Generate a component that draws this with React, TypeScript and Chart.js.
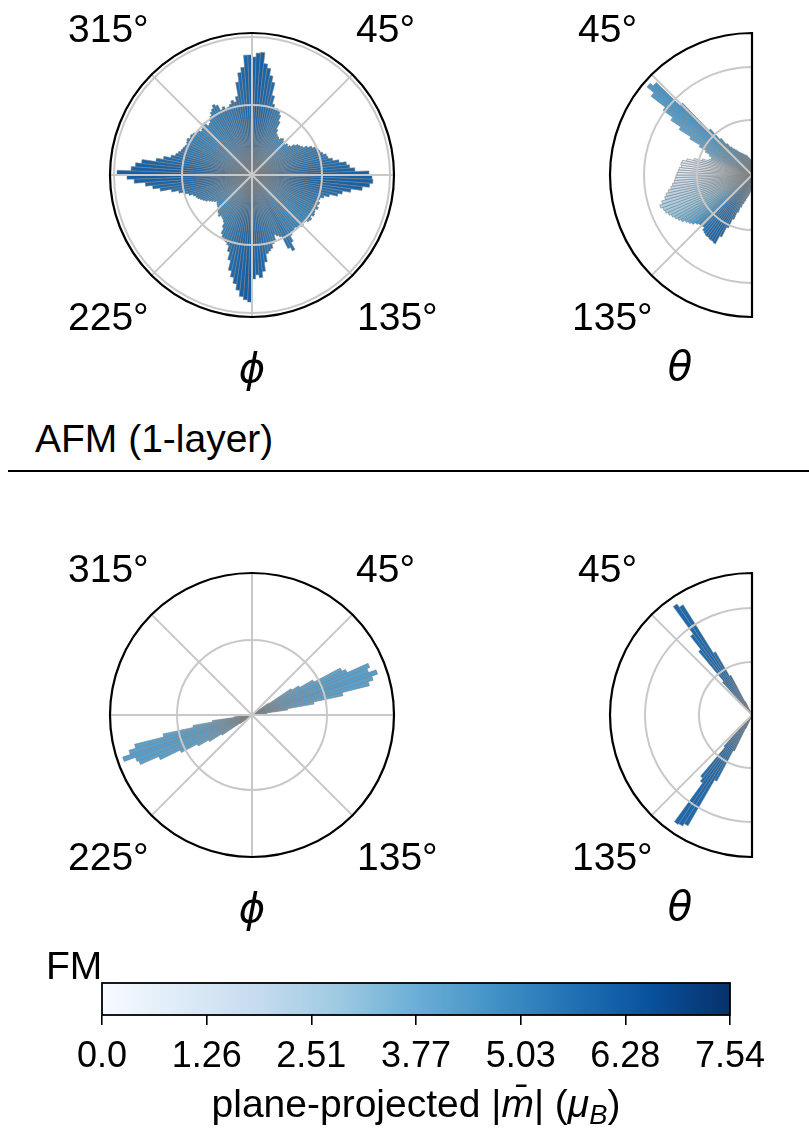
import React, { useEffect, useRef } from 'react';
import { Chart, registerables } from 'chart.js';
Chart.register(...registerables);

// ---------------- DATA ----------------
// Histogram bins are 2 degrees wide. phi bins start at phi = 0 (top), clockwise.
// theta bins start at theta = 0 (top) and run to 180 (bottom) through the left side.
const R_MAX = 142;

// AFM (1-layer) – phi histogram counts (180 bins)
const afmPhiCounts = [
  118, 122, 123, 112, 108, 101, 95, 82, 74, 70,
  71, 69, 66, 60, 52, 48, 47, 46, 45, 47,
  48, 46, 44, 45, 47, 46, 48, 52, 55, 56,
  58, 62, 66, 69, 71, 72, 74, 77, 78, 82,
  88, 95, 98, 103, 117, 120, 121, 118, 111, 100,
  92, 88, 80, 75, 72, 71, 73, 72, 74, 72,
  73, 74, 72, 74, 73, 71, 70, 72, 70, 69,
  68, 70, 69, 72, 78, 86, 82, 68, 66, 64,
  70, 72, 76, 78, 80, 88, 97, 103, 100, 104,
  127, 125, 122, 116, 110, 104, 98, 88, 80, 74,
  72, 71, 69, 66, 60, 55, 53, 52, 51, 53,
  51, 50, 48, 47, 46, 45, 44, 46, 48, 50,
  53, 55, 57, 59, 60, 62, 66, 70, 75, 82,
  93, 100, 107, 118, 125, 135, 121, 117, 111, 97,
  90, 83, 79, 77, 75, 74, 73, 72, 73, 74,
  72, 73, 72, 70, 69, 67, 68, 70, 71, 66,
  67, 70, 72, 75, 77, 80, 78, 72, 74, 71,
  72, 74, 77, 75, 80, 94, 103, 108, 120, 120,
];
// AFM – mean plane-projected |m| per phi bin (colour)
const afmPhiMag = [
  6.0, 6.1, 6.1, 6.0, 6.0, 5.9, 5.8, 5.7, 5.5, 5.4,
  5.3, 5.3, 5.2, 5.2, 5.1, 5.1, 5.0, 5.0, 5.0, 5.0,
  5.0, 5.0, 4.9, 5.0, 5.0, 5.0, 5.1, 5.1, 5.1, 5.2,
  5.2, 5.2, 5.3, 5.3, 5.4, 5.4, 5.5, 5.5, 5.6, 5.7,
  5.7, 5.8, 5.9, 6.0, 6.1, 6.1, 6.1, 6.1, 6.0, 5.9,
  5.8, 5.7, 5.6, 5.5, 5.4, 5.4, 5.3, 5.3, 5.2, 5.2,
  5.2, 5.2, 5.1, 5.1, 5.1, 5.0, 5.0, 5.0, 5.0, 5.1,
  5.1, 5.1, 5.2, 5.2, 5.4, 5.6, 5.5, 5.3, 5.3, 5.3,
  5.4, 5.4, 5.5, 5.6, 5.6, 5.8, 5.9, 6.0, 6.0, 6.1,
  6.2, 6.2, 6.1, 6.1, 6.0, 5.9, 5.8, 5.7, 5.6, 5.5,
  5.4, 5.3, 5.3, 5.2, 5.2, 5.1, 5.1, 5.0, 5.0, 5.0,
  4.9, 4.9, 4.9, 4.9, 4.9, 4.9, 4.9, 5.0, 5.0, 5.1,
  5.1, 5.2, 5.2, 5.3, 5.3, 5.4, 5.4, 5.5, 5.6, 5.7,
  5.8, 5.9, 6.0, 6.1, 6.2, 6.2, 6.1, 6.1, 6.0, 5.9,
  5.8, 5.7, 5.6, 5.5, 5.4, 5.4, 5.3, 5.3, 5.2, 5.2,
  5.2, 5.2, 5.1, 5.1, 5.1, 5.0, 5.0, 5.0, 5.1, 5.1,
  5.1, 5.2, 5.2, 5.2, 5.3, 5.3, 5.3, 5.3, 5.4, 5.4,
  5.4, 5.5, 5.5, 5.6, 5.7, 5.7, 5.8, 5.9, 6.0, 6.0,
];
// AFM – theta histogram counts (90 bins, 0..180)
const afmThetaCounts = [
  12, 14, 15, 16, 17, 18, 19, 20, 21, 21,
  22, 23, 24, 25, 26, 28, 30, 32, 35, 40,
  48, 62, 100, 133, 137, 128, 110, 98, 86, 72,
  60, 52, 47, 44, 44, 46, 52, 60, 67, 71,
  72, 71, 73, 74, 75, 76, 77, 78, 80, 82,
  85, 88, 90, 94, 97, 95, 94, 92, 90, 88,
  86, 84, 81, 79, 77, 74, 72, 72, 71, 74,
  75, 76, 76, 77, 77, 78, 69, 58, 48, 40,
  34, 30, 27, 24, 22, 20, 18, 16, 14, 12,
];
const afmThetaMag = [
  4.5, 4.5, 4.6, 4.6, 4.5, 4.6, 4.6, 4.7, 4.6, 4.7,
  4.7, 4.7, 4.8, 4.7, 4.8, 4.8, 4.9, 4.8, 4.9, 4.9,
  4.9, 4.8, 4.7, 4.6, 4.5, 4.4, 4.3, 4.2, 4.1, 4.0,
  3.8, 3.6, 3.3, 3.0, 2.6, 2.2, 1.8, 1.4, 1.1, 0.9,
  0.8, 0.8, 0.9, 1.0, 1.1, 1.2, 1.4, 1.6, 1.8, 2.0,
  2.1, 2.2, 2.3, 2.4, 2.5, 2.6, 2.8, 2.9, 3.0, 3.2,
  3.4, 3.6, 3.8, 4.0, 4.3, 4.6, 4.9, 5.2, 5.4, 5.6,
  5.7, 5.8, 5.9, 5.9, 6.0, 6.0, 5.9, 5.8, 5.6, 5.4,
  5.3, 5.2, 5.1, 5.0, 5.0, 4.9, 4.9, 4.8, 4.8, 4.8,
];
// FM – phi histogram counts (180 bins)
const fmPhiCounts = [
  0, 0, 0, 0, 0, 0, 0, 0, 0, 0,
  0, 0, 0, 0, 0, 0, 0, 0, 0, 0,
  0, 0, 0, 0, 0, 0, 0, 20, 47, 55,
  70, 100, 104, 127, 124, 132, 126, 121, 93, 63,
  36, 15, 0, 0, 0, 0, 0, 0, 0, 0,
  0, 0, 0, 0, 0, 0, 0, 0, 0, 0,
  0, 0, 0, 0, 0, 0, 0, 0, 0, 0,
  0, 0, 0, 0, 0, 0, 0, 0, 0, 0,
  0, 0, 0, 0, 0, 0, 0, 0, 0, 0,
  0, 0, 0, 0, 0, 0, 0, 0, 0, 0,
  0, 0, 0, 0, 0, 0, 0, 0, 0, 0,
  0, 0, 0, 0, 0, 0, 0, 15, 36, 50,
  62, 80, 102, 122, 124, 136, 128, 121, 91, 60,
  40, 18, 0, 0, 0, 0, 0, 0, 0, 0,
  0, 0, 0, 0, 0, 0, 0, 0, 0, 0,
  0, 0, 0, 0, 0, 0, 0, 0, 0, 0,
  0, 0, 0, 0, 0, 0, 0, 0, 0, 0,
  0, 0, 0, 0, 0, 0, 0, 0, 0, 0,
];
const fmPhiMag = [
  0, 0, 0, 0, 0, 0, 0, 0, 0, 0,
  0, 0, 0, 0, 0, 0, 0, 0, 0, 0,
  0, 0, 0, 0, 0, 0, 0, 3.9, 4.0, 4.0,
  4.1, 4.1, 4.2, 4.2, 4.2, 4.3, 4.2, 4.2, 4.1, 4.0,
  4.0, 3.9, 0, 0, 0, 0, 0, 0, 0, 0,
  0, 0, 0, 0, 0, 0, 0, 0, 0, 0,
  0, 0, 0, 0, 0, 0, 0, 0, 0, 0,
  0, 0, 0, 0, 0, 0, 0, 0, 0, 0,
  0, 0, 0, 0, 0, 0, 0, 0, 0, 0,
  0, 0, 0, 0, 0, 0, 0, 0, 0, 0,
  0, 0, 0, 0, 0, 0, 0, 0, 0, 0,
  0, 0, 0, 0, 0, 0, 0, 3.9, 4.0, 4.0,
  4.1, 4.1, 4.2, 4.2, 4.2, 4.3, 4.2, 4.2, 4.1, 4.0,
  4.0, 3.9, 0, 0, 0, 0, 0, 0, 0, 0,
  0, 0, 0, 0, 0, 0, 0, 0, 0, 0,
  0, 0, 0, 0, 0, 0, 0, 0, 0, 0,
  0, 0, 0, 0, 0, 0, 0, 0, 0, 0,
  0, 0, 0, 0, 0, 0, 0, 0, 0, 0,
];
// FM – theta histogram counts (90 bins)
const fmThetaCounts = [
  0, 0, 0, 0, 0, 0, 0, 0, 0, 0,
  0, 0, 0, 15, 45, 73, 130, 134, 100, 83,
  44, 20, 0, 0, 0, 0, 0, 0, 0, 0,
  0, 0, 0, 0, 0, 0, 0, 0, 0, 0,
  0, 0, 0, 0, 0, 0, 0, 0, 0, 0,
  0, 0, 0, 0, 0, 0, 0, 0, 0, 0,
  0, 0, 0, 0, 0, 0, 0, 0, 20, 42,
  80, 84, 132, 131, 128, 75, 40, 15, 0, 0,
  0, 0, 0, 0, 0, 0, 0, 0, 0, 0,
];
const fmThetaMag = [
  0, 0, 0, 0, 0, 0, 0, 0, 0, 0,
  0, 0, 0, 5.7, 5.8, 5.8, 5.9, 5.9, 5.8, 5.8,
  5.7, 5.7, 0, 0, 0, 0, 0, 0, 0, 0,
  0, 0, 0, 0, 0, 0, 0, 0, 0, 0,
  0, 0, 0, 0, 0, 0, 0, 0, 0, 0,
  0, 0, 0, 0, 0, 0, 0, 0, 0, 0,
  0, 0, 0, 0, 0, 0, 0, 0, 5.7, 5.7,
  5.8, 5.8, 5.9, 5.9, 5.9, 5.8, 5.7, 5.7, 0, 0,
  0, 0, 0, 0, 0, 0, 0, 0, 0, 0,
];

// radial grid rings (in count units)
const afmPhiRings = [70, 138];
const afmThetaRings = [55, 108];
const fmPhiRings = [75];
const fmThetaRings = [53, 107];

// angular grid lines (degrees)
const PHI_GRID_ANGLES = [0, 45, 90, 135, 180, 225, 270, 315];
const THETA_GRID_ANGLES = [45, 135];
const PHI_TICK_TEXT = ['315°', '45°', '225°', '135°'];
const THETA_TICK_TEXT = ['45°', '135°'];

// colour bar
const CB_MAX = 7.54;
const CB_TICKS = [0, 1.2567, 2.5133, 3.77, 5.0267, 6.2833, 7.54];
const CB_LABELS = ['0.0', '1.26', '2.51', '3.77', '5.03', '6.28', '7.54'];

// ---------------- STYLE ----------------
const FONT = '"Liberation Sans", Arial, Helvetica, sans-serif';
const TXT_SIZE = 39;
const GRID_COLOR = '#c8c8c8';
const EDGE_COLOR = '#808080';
const BLUES = [
  [247, 251, 255], [222, 235, 247], [198, 219, 239], [158, 202, 225], [107, 174, 214],
  [66, 146, 198], [33, 113, 181], [8, 81, 156], [8, 48, 107],
];
// label placement (offset of text start / baseline from polar centre)
const PHI_TICK_POS = [[-184, -133], [104, -133], [-184, 155], [105, 155]];
const THETA_TICK_POS = [[-174, -133], [-180, 155]];

function blues(v: number): string {
  const t = Math.max(0, Math.min(1, v / CB_MAX)) * (BLUES.length - 1);
  const i = Math.min(BLUES.length - 2, Math.floor(t));
  const f = t - i;
  const a = BLUES[i], b = BLUES[i + 1];
  const c = [0, 1, 2].map((k) => Math.round(a[k] + (b[k] - a[k]) * f));
  return `rgb(${c[0]},${c[1]},${c[2]})`;
}

const polarDecor = {
  id: 'polarDecor',
  afterDatasetsDraw(chart: any, _args: any, opts: any) {
    const s = chart.scales.r;
    const cx = s.xCenter, cy = s.yCenter, R = s.drawingArea;
    const ctx = chart.ctx;
    const half = opts.half;
    ctx.save();
    ctx.strokeStyle = GRID_COLOR;
    ctx.lineWidth = 2;
    for (const v of opts.rings) {
      const r = s.getDistanceFromCenterForValue(v);
      ctx.beginPath();
      if (half) ctx.arc(cx, cy, r, -Math.PI / 2, Math.PI / 2, true);
      else ctx.arc(cx, cy, r, 0, Math.PI * 2);
      ctx.stroke();
    }
    for (const a of opts.angles) {
      const t = (a * Math.PI) / 180;
      const sx = (half ? -1 : 1) * Math.sin(t);
      ctx.beginPath();
      ctx.moveTo(cx, cy);
      ctx.lineTo(cx + R * sx, cy - R * Math.cos(t));
      ctx.stroke();
    }
    ctx.strokeStyle = '#000';
    ctx.lineWidth = 2.2;
    ctx.beginPath();
    if (half) {
      ctx.arc(cx, cy, R, -Math.PI / 2, Math.PI / 2, true);
      ctx.closePath();
    } else ctx.arc(cx, cy, R, 0, Math.PI * 2);
    ctx.stroke();
    ctx.fillStyle = '#000';
    ctx.font = `${TXT_SIZE}px ${FONT}`;
    ctx.textAlign = 'left';
    ctx.textBaseline = 'alphabetic';
    opts.labels.forEach((txt: string, i: number) => {
      const p = opts.pos[i];
      ctx.fillText(txt, cx + p[0], cy + p[1]);
    });
    ctx.restore();
  },
};

const colorbarPlugin = {
  id: 'cbar',
  beforeDatasetsDraw(chart: any) {
    const { ctx, chartArea: a } = chart;
    const g = ctx.createLinearGradient(a.left, 0, a.right, 0);
    BLUES.forEach((c, i) => g.addColorStop(i / (BLUES.length - 1), `rgb(${c[0]},${c[1]},${c[2]})`));
    ctx.save();
    ctx.fillStyle = g;
    ctx.fillRect(a.left, a.top, a.right - a.left, a.bottom - a.top);
    ctx.strokeStyle = '#000';
    ctx.lineWidth = 1.8;
    ctx.strokeRect(a.left, a.top, a.right - a.left, a.bottom - a.top);
    ctx.restore();
  },
};

function makePolar(canvas: HTMLCanvasElement, cfg: any) {
  const { counts, mags, half, rings, angles, labels, pos } = cfg;
  let data: number[], colors: string[], borders: string[];
  if (half) {
    const c = counts.slice().reverse();
    const m = mags.slice().reverse();
    const pad = c.map(() => 0);
    data = c.concat(pad);
    colors = m.map(blues).concat(pad.map(() => 'rgba(0,0,0,0)'));
    borders = c.map(() => EDGE_COLOR).concat(pad.map(() => 'rgba(0,0,0,0)'));
  } else {
    data = counts.slice();
    colors = mags.map(blues);
    borders = counts.map(() => EDGE_COLOR);
  }
  return new Chart(canvas, {
    type: 'polarArea',
    data: {
      labels: data.map((_, i) => String(i)),
      datasets: [{ data, backgroundColor: colors, borderColor: borders, borderWidth: 0.6 }],
    },
    options: {
      responsive: false,
      animation: false,
      events: [],
      layout: { padding: { left: 70, right: 66, top: 33, bottom: 83 } },
      plugins: {
        legend: { display: false },
        tooltip: { enabled: false },
        polarDecor: { half, rings, angles, labels, pos },
      } as any,
      scales: {
        r: {
          min: 0,
          max: R_MAX,
          startAngle: half ? 180 : 0,
          ticks: { display: false },
          grid: { display: false },
          angleLines: { display: false },
          pointLabels: { display: false },
        },
      },
    },
    plugins: [polarDecor],
  } as any);
}

export default function App() {
  const c1 = useRef<HTMLCanvasElement>(null);
  const c2 = useRef<HTMLCanvasElement>(null);
  const c3 = useRef<HTMLCanvasElement>(null);
  const c4 = useRef<HTMLCanvasElement>(null);
  const c5 = useRef<HTMLCanvasElement>(null);

  useEffect(() => {
    Chart.defaults.font.family = FONT;
    const charts: Chart[] = [];
    charts.push(makePolar(c1.current!, { counts: afmPhiCounts, mags: afmPhiMag, half: false, rings: afmPhiRings, angles: PHI_GRID_ANGLES, labels: PHI_TICK_TEXT, pos: PHI_TICK_POS }));
    charts.push(makePolar(c2.current!, { counts: afmThetaCounts, mags: afmThetaMag, half: true, rings: afmThetaRings, angles: THETA_GRID_ANGLES, labels: THETA_TICK_TEXT, pos: THETA_TICK_POS }));
    charts.push(makePolar(c3.current!, { counts: fmPhiCounts, mags: fmPhiMag, half: false, rings: fmPhiRings, angles: PHI_GRID_ANGLES, labels: PHI_TICK_TEXT, pos: PHI_TICK_POS }));
    charts.push(makePolar(c4.current!, { counts: fmThetaCounts, mags: fmThetaMag, half: true, rings: fmThetaRings, angles: THETA_GRID_ANGLES, labels: THETA_TICK_TEXT, pos: THETA_TICK_POS }));
    charts.push(
      new Chart(c5.current!, {
        type: 'scatter',
        data: { datasets: [{ data: [] }] },
        options: {
          responsive: false,
          animation: false,
          events: [],
          layout: { padding: { left: 102, right: 79, top: 8, bottom: 0 } },
          plugins: { legend: { display: false }, tooltip: { enabled: false } },
          scales: {
            x: {
              type: 'linear',
              min: 0,
              max: CB_MAX,
              position: 'bottom',
              afterBuildTicks: (s: any) => {
                s.ticks = CB_TICKS.map((v) => ({ value: v }));
              },
              afterFit: (s: any) => {
                s.height = 116;
              },
              ticks: {
                autoSkip: false,
                maxRotation: 0,
                minRotation: 0,
                padding: 10,
                color: '#000',
                font: { family: FONT, size: 36 },
                callback: (_v: any, i: number) => CB_LABELS[i],
              },
              grid: { display: true, drawOnChartArea: false, drawTicks: true, tickLength: 10, color: '#000', lineWidth: 1.6 },
              border: { display: false },
            },
            y: { display: false, min: 0, max: 1 },
          },
        },
        plugins: [colorbarPlugin],
      } as any)
    );
    return () => charts.forEach((c) => c.destroy());
  }, []);

  const txt: React.CSSProperties = { position: 'absolute', fontFamily: FONT, fontSize: TXT_SIZE, lineHeight: `${TXT_SIZE}px`, whiteSpace: 'nowrap', color: '#000' };
  const greek: React.CSSProperties = { ...txt, fontFamily: '"DejaVu Sans", sans-serif', fontStyle: 'italic', fontSize: 40, lineHeight: '40px', width: 100, textAlign: 'center' };

  return (
    <div style={{ position: 'absolute', left: 0, top: 0, width: 809, height: 1131, overflow: 'hidden', background: '#fff' }}>
      <canvas ref={c1} width={420} height={400} style={{ position: 'absolute', left: 40, top: 0 }} />
      <canvas ref={c2} width={420} height={400} style={{ position: 'absolute', left: 540, top: 0 }} />
      <canvas ref={c3} width={420} height={400} style={{ position: 'absolute', left: 40, top: 540 }} />
      <canvas ref={c4} width={420} height={400} style={{ position: 'absolute', left: 540, top: 540 }} />
      <canvas ref={c5} width={809} height={156} style={{ position: 'absolute', left: 0, top: 975 }} />

      <div style={{ ...greek, left: 202, top: 348 }}>ϕ</div>
      <div style={{ ...greek, left: 630, top: 346 }}>θ</div>
      <div style={{ ...greek, left: 202, top: 888 }}>ϕ</div>
      <div style={{ ...greek, left: 630, top: 886 }}>θ</div>

      <div style={{ ...txt, left: 35, top: 419 }}>AFM (1-layer)</div>
      <div style={{ position: 'absolute', left: 8, top: 470, width: 801, height: 2, background: '#000' }} />
      <div style={{ ...txt, left: 46, top: 946 }}>FM</div>
      <div style={{ ...txt, left: 0, width: 832, textAlign: 'center', top: 1084 }}>
        plane-projected |<i>m&#772;</i>| (<i>μ</i>
        <span style={{ fontSize: '0.7em', verticalAlign: '-0.25em' }}>
          <i>B</i>
        </span>
        )
      </div>
    </div>
  );
}
